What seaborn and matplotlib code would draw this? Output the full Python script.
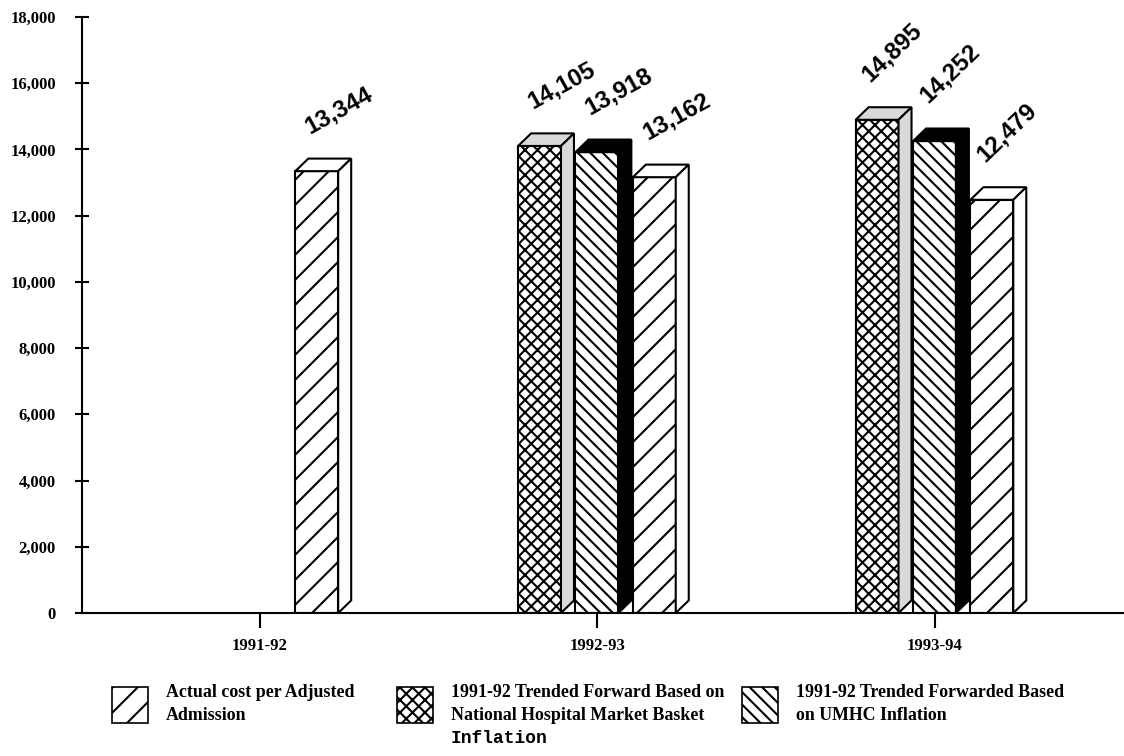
import matplotlib.pyplot as plt
import pandas as pd
import seaborn as sns
from matplotlib.patches import Patch, Polygon
from matplotlib.ticker import FuncFormatter

# values
years = ["1991-92", "1992-93", "1993-94"]
actual_cost = [13344, 13162, 12479]
market_basket = [None, 14105, 14895]
umhc_inflation = [None, 13918, 14252]

hue_order = ["market_basket", "umhc", "actual"]
legend_order = ["actual", "market_basket", "umhc"]
legend_labels = {
    "actual": "Actual cost per Adjusted\nAdmission",
    "market_basket": "1991-92 Trended Forward Based on\nNational Hospital Market Basket",
    "umhc": "1991-92 Trended Forwarded Based\non UMHC Inflation",
}
label_rotation = {"1991-92": 29, "1992-93": 29, "1993-94": 44}

rows = []
for name, vals in [("market_basket", market_basket), ("umhc", umhc_inflation), ("actual", actual_cost)]:
    for yr, v in zip(years, vals):
        if v is not None:
            rows.append({"year": yr, "series": name, "cost": v})
df = pd.DataFrame(rows)

# fake colours only used to tell the bars apart afterwards
palette = {"market_basket": "#ff0000", "umhc": "#00ff00", "actual": "#0000ff"}
styles = {
    "market_basket": dict(hatch="xxxx", depth="#d9d9d9"),
    "umhc": dict(hatch="\\\\\\\\", depth="black"),
    "actual": dict(hatch="//", depth="white"),
}

plt.rcParams["hatch.linewidth"] = 1.0
plt.rcParams["hatch.color"] = "black"

DPI = 150
W, H = 1124, 756
fig = plt.figure(figsize=(W / DPI, H / DPI), dpi=DPI)
ax = fig.add_axes([82 / W, 1 - 613 / H, 1 - 82 / W, (613 - 17) / H])

sns.barplot(data=df, x="year", y="cost", hue="series", order=years,
            hue_order=hue_order, palette=palette, width=0.51, dodge=True,
            saturation=1, errorbar=None, legend=False, ax=ax)

ax.set_xlim(-0.527, 2.56)
ax.set_ylim(0, 18000)

# 3d look: narrower front face + top and side faces
front_w = 0.127
dx, dy = 0.0385, 380
shift = 0.02
for p in list(ax.patches):
    h = p.get_height()
    if h != h or h == 0:
        continue
    fc = p.get_facecolor()
    key = [k for k, c in palette.items()
           if abs(fc[0] - int(c[1:3], 16) / 255) < 0.01 and abs(fc[1] - int(c[3:5], 16) / 255) < 0.01][0]
    st = styles[key]
    x0 = p.get_x() + shift
    p.set_x(x0)
    p.set_width(front_w)
    p.set_facecolor("white")
    p.set_edgecolor("black")
    p.set_linewidth(1.0)
    p.set_hatch(st["hatch"])
    x1 = x0 + front_w
    top = Polygon([(x0, h), (x0 + dx, h + dy), (x1 + dx, h + dy), (x1, h)],
                  closed=True, facecolor=st["depth"], edgecolor="black", linewidth=1.0)
    side = Polygon([(x1, 0), (x1 + dx, dy), (x1 + dx, h + dy), (x1, h)],
                   closed=True, facecolor=st["depth"], edgecolor="black", linewidth=1.0)
    ax.add_patch(top)
    ax.add_patch(side)

    yr = years[int(round(x0 + front_w / 2))]
    ax.annotate(f"{h:,.0f}", xy=(x0, h), xytext=(7, 18), textcoords="offset points",
                rotation=label_rotation[yr], rotation_mode="anchor",
                ha="left", va="baseline", fontsize=11.5, fontweight="bold",
                family="Liberation Sans")

ax.set_xlabel("")
ax.set_ylabel("")
ax.set_yticks(range(0, 18001, 2000))
ax.yaxis.set_major_formatter(FuncFormatter(lambda v, _: f"{v:,.0f}"))
for s in ["top", "right"]:
    ax.spines[s].set_visible(False)
for s in ["left", "bottom"]:
    ax.spines[s].set_linewidth(1.0)
ax.tick_params(axis="y", direction="inout", length=7, width=1, pad=9)
ax.tick_params(axis="x", direction="out", length=7, width=1, pad=5)
for lbl in ax.get_xticklabels() + ax.get_yticklabels():
    lbl.set_family("Liberation Serif")
    lbl.set_fontweight("bold")
    lbl.set_fontsize(8)

# legend along the bottom, one block per series
legs = []
for key, xpx in zip(legend_order, [112, 397, 742]):
    hnd = Patch(facecolor="white", edgecolor="black", hatch=styles[key]["hatch"], linewidth=0.8)
    leg = fig.legend(handles=[hnd], labels=[legend_labels[key]], loc="upper left",
                     bbox_to_anchor=(xpx / W, 1 - 684 / H), frameon=False,
                     borderpad=0, borderaxespad=0, handlelength=2.0, handleheight=2.7,
                     handletextpad=1.0,
                     prop=dict(family="Liberation Serif", weight="bold", size=8.6))
    for t in leg.get_texts():
        t.set_linespacing(1.45)
    legs.append(leg)

fig.canvas.draw()
bb = legs[1].get_texts()[0].get_window_extent()
fig.text(bb.x0 / fig.bbox.width, (bb.y0 - 6) / fig.bbox.height, "Inflation",
         family="Liberation Mono", weight="bold", size=8.6, va="top", ha="left")

fig.savefig("out.png", dpi=DPI)
